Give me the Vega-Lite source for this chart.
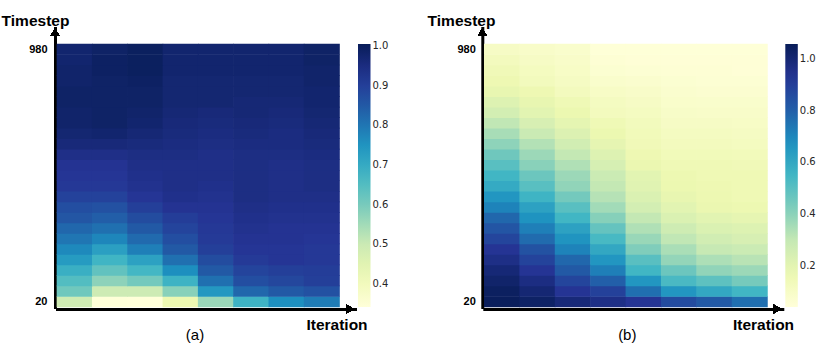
{"$schema":"https://vega.github.io/schema/vega-lite/v6.json","autosize":{"type":"none"},"padding":{"left":57,"top":28,"right":773,"bottom":334},"background":"white","bounds":"flush","spacing":129.3,"resolve":{"scale":{"color":"independent"},"legend":{"color":"independent"}},"config":{"view":{"stroke":null},"axis":{"grid":false,"ticks":false,"labelFont":"Liberation Sans","labelFontWeight":"bold","labelFontSize":11,"labelColor":"#000","titleFont":"Liberation Sans","titleFontWeight":"bold","titleFontSize":15.5,"titleColor":"#000","domainColor":"#000","domainWidth":3,"domainCap":"square","offset":2},"legend":{"labelFont":"DejaVu Sans","labelFontSize":10,"labelColor":"#262626","gradientLength":263,"gradientThickness":12.5,"gradientStrokeWidth":0,"labelOffset":8,"orient":"none","legendX":301,"legendY":16},"title":{"font":"Liberation Sans","fontSize":15,"fontWeight":"normal","color":"#000"}},"hconcat":[{"width":298,"height":279,"title":{"text":"(a)","orient":"bottom","anchor":"middle","dx":-11,"offset":-5},"data":{"values":[
{"iter":1,"t":20,"v":0.49},{"iter":2,"t":20,"v":0.345},{"iter":3,"t":20,"v":0.342},{"iter":4,"t":20,"v":0.425},{"iter":5,"t":20,"v":0.56},{"iter":6,"t":20,"v":0.68},{"iter":7,"t":20,"v":0.76},{"iter":8,"t":20,"v":0.79},
{"iter":1,"t":60,"v":0.61},{"iter":2,"t":60,"v":0.495},{"iter":3,"t":60,"v":0.495},{"iter":4,"t":60,"v":0.58},{"iter":5,"t":60,"v":0.74},{"iter":6,"t":60,"v":0.825},{"iter":7,"t":60,"v":0.85},{"iter":8,"t":60,"v":0.865},
{"iter":1,"t":100,"v":0.65},{"iter":2,"t":100,"v":0.575},{"iter":3,"t":100,"v":0.605},{"iter":4,"t":100,"v":0.68},{"iter":5,"t":100,"v":0.81},{"iter":6,"t":100,"v":0.87},{"iter":7,"t":100,"v":0.885},{"iter":8,"t":100,"v":0.9},
{"iter":1,"t":140,"v":0.69},{"iter":2,"t":140,"v":0.63},{"iter":3,"t":140,"v":0.67},{"iter":4,"t":140,"v":0.76},{"iter":5,"t":140,"v":0.85},{"iter":6,"t":140,"v":0.89},{"iter":7,"t":140,"v":0.9},{"iter":8,"t":140,"v":0.905},
{"iter":1,"t":180,"v":0.735},{"iter":2,"t":180,"v":0.675},{"iter":3,"t":180,"v":0.72},{"iter":4,"t":180,"v":0.81},{"iter":5,"t":180,"v":0.875},{"iter":6,"t":180,"v":0.91},{"iter":7,"t":180,"v":0.92},{"iter":8,"t":180,"v":0.915},
{"iter":1,"t":220,"v":0.77},{"iter":2,"t":220,"v":0.725},{"iter":3,"t":220,"v":0.785},{"iter":4,"t":220,"v":0.85},{"iter":5,"t":220,"v":0.9},{"iter":6,"t":220,"v":0.92},{"iter":7,"t":220,"v":0.92},{"iter":8,"t":220,"v":0.915},
{"iter":1,"t":260,"v":0.8},{"iter":2,"t":260,"v":0.775},{"iter":3,"t":260,"v":0.82},{"iter":4,"t":260,"v":0.87},{"iter":5,"t":260,"v":0.91},{"iter":6,"t":260,"v":0.925},{"iter":7,"t":260,"v":0.925},{"iter":8,"t":260,"v":0.92},
{"iter":1,"t":300,"v":0.825},{"iter":2,"t":300,"v":0.81},{"iter":3,"t":300,"v":0.85},{"iter":4,"t":300,"v":0.89},{"iter":5,"t":300,"v":0.915},{"iter":6,"t":300,"v":0.93},{"iter":7,"t":300,"v":0.925},{"iter":8,"t":300,"v":0.925},
{"iter":1,"t":340,"v":0.855},{"iter":2,"t":340,"v":0.84},{"iter":3,"t":340,"v":0.875},{"iter":4,"t":340,"v":0.905},{"iter":5,"t":340,"v":0.92},{"iter":6,"t":340,"v":0.935},{"iter":7,"t":340,"v":0.93},{"iter":8,"t":340,"v":0.93},
{"iter":1,"t":380,"v":0.87},{"iter":2,"t":380,"v":0.865},{"iter":3,"t":380,"v":0.9},{"iter":4,"t":380,"v":0.925},{"iter":5,"t":380,"v":0.925},{"iter":6,"t":380,"v":0.94},{"iter":7,"t":380,"v":0.935},{"iter":8,"t":380,"v":0.935},
{"iter":1,"t":420,"v":0.895},{"iter":2,"t":420,"v":0.895},{"iter":3,"t":420,"v":0.92},{"iter":4,"t":420,"v":0.935},{"iter":5,"t":420,"v":0.93},{"iter":6,"t":420,"v":0.945},{"iter":7,"t":420,"v":0.94},{"iter":8,"t":420,"v":0.94},
{"iter":1,"t":460,"v":0.915},{"iter":2,"t":460,"v":0.915},{"iter":3,"t":460,"v":0.93},{"iter":4,"t":460,"v":0.94},{"iter":5,"t":460,"v":0.935},{"iter":6,"t":460,"v":0.945},{"iter":7,"t":460,"v":0.94},{"iter":8,"t":460,"v":0.945},
{"iter":1,"t":500,"v":0.92},{"iter":2,"t":500,"v":0.92},{"iter":3,"t":500,"v":0.935},{"iter":4,"t":500,"v":0.94},{"iter":5,"t":500,"v":0.94},{"iter":6,"t":500,"v":0.945},{"iter":7,"t":500,"v":0.94},{"iter":8,"t":500,"v":0.945},
{"iter":1,"t":540,"v":0.925},{"iter":2,"t":540,"v":0.925},{"iter":3,"t":540,"v":0.94},{"iter":4,"t":540,"v":0.94},{"iter":5,"t":540,"v":0.94},{"iter":6,"t":540,"v":0.945},{"iter":7,"t":540,"v":0.94},{"iter":8,"t":540,"v":0.945},
{"iter":1,"t":580,"v":0.94},{"iter":2,"t":580,"v":0.94},{"iter":3,"t":580,"v":0.945},{"iter":4,"t":580,"v":0.945},{"iter":5,"t":580,"v":0.94},{"iter":6,"t":580,"v":0.945},{"iter":7,"t":580,"v":0.945},{"iter":8,"t":580,"v":0.95},
{"iter":1,"t":620,"v":0.96},{"iter":2,"t":620,"v":0.96},{"iter":3,"t":620,"v":0.955},{"iter":4,"t":620,"v":0.95},{"iter":5,"t":620,"v":0.945},{"iter":6,"t":620,"v":0.95},{"iter":7,"t":620,"v":0.95},{"iter":8,"t":620,"v":0.955},
{"iter":1,"t":660,"v":0.97},{"iter":2,"t":660,"v":0.975},{"iter":3,"t":660,"v":0.965},{"iter":4,"t":660,"v":0.955},{"iter":5,"t":660,"v":0.95},{"iter":6,"t":660,"v":0.955},{"iter":7,"t":660,"v":0.95},{"iter":8,"t":660,"v":0.96},
{"iter":1,"t":700,"v":0.98},{"iter":2,"t":700,"v":0.985},{"iter":3,"t":700,"v":0.975},{"iter":4,"t":700,"v":0.96},{"iter":5,"t":700,"v":0.955},{"iter":6,"t":700,"v":0.96},{"iter":7,"t":700,"v":0.955},{"iter":8,"t":700,"v":0.965},
{"iter":1,"t":740,"v":0.98},{"iter":2,"t":740,"v":0.985},{"iter":3,"t":740,"v":0.98},{"iter":4,"t":740,"v":0.965},{"iter":5,"t":740,"v":0.96},{"iter":6,"t":740,"v":0.965},{"iter":7,"t":740,"v":0.96},{"iter":8,"t":740,"v":0.97},
{"iter":1,"t":780,"v":0.985},{"iter":2,"t":780,"v":0.985},{"iter":3,"t":780,"v":0.985},{"iter":4,"t":780,"v":0.97},{"iter":5,"t":780,"v":0.97},{"iter":6,"t":780,"v":0.965},{"iter":7,"t":780,"v":0.965},{"iter":8,"t":780,"v":0.975},
{"iter":1,"t":820,"v":0.985},{"iter":2,"t":820,"v":0.985},{"iter":3,"t":820,"v":0.985},{"iter":4,"t":820,"v":0.97},{"iter":5,"t":820,"v":0.97},{"iter":6,"t":820,"v":0.97},{"iter":7,"t":820,"v":0.97},{"iter":8,"t":820,"v":0.975},
{"iter":1,"t":860,"v":0.98},{"iter":2,"t":860,"v":0.985},{"iter":3,"t":860,"v":0.99},{"iter":4,"t":860,"v":0.97},{"iter":5,"t":860,"v":0.97},{"iter":6,"t":860,"v":0.97},{"iter":7,"t":860,"v":0.97},{"iter":8,"t":860,"v":0.98},
{"iter":1,"t":900,"v":0.98},{"iter":2,"t":900,"v":0.99},{"iter":3,"t":900,"v":0.995},{"iter":4,"t":900,"v":0.975},{"iter":5,"t":900,"v":0.975},{"iter":6,"t":900,"v":0.975},{"iter":7,"t":900,"v":0.975},{"iter":8,"t":900,"v":0.98},
{"iter":1,"t":940,"v":0.975},{"iter":2,"t":940,"v":0.99},{"iter":3,"t":940,"v":0.995},{"iter":4,"t":940,"v":0.975},{"iter":5,"t":940,"v":0.975},{"iter":6,"t":940,"v":0.975},{"iter":7,"t":940,"v":0.975},{"iter":8,"t":940,"v":0.985},
{"iter":1,"t":980,"v":0.975},{"iter":2,"t":980,"v":0.985},{"iter":3,"t":980,"v":0.995},{"iter":4,"t":980,"v":0.975},{"iter":5,"t":980,"v":0.975},{"iter":6,"t":980,"v":0.975},{"iter":7,"t":980,"v":0.975},{"iter":8,"t":980,"v":0.985}
]},"layer":[{"mark":{"type":"rect","width":36,"height":11.2},"encoding":{"x":{"field":"iter","type":"quantitative","scale":{"domain":[0.5,8.94],"nice":false,"zero":false},"axis":{"labels":false,"title":"Iteration","titleAlign":"center","titleBaseline":"alphabetic","titleX":279.5,"titleY":20}},"y":{"field":"t","type":"quantitative","scale":{"domain":[0,1060.8],"nice":false},"axis":{"values":[20,980],"title":"Timestep","titleAngle":0,"titleAlign":"center","titleBaseline":"alphabetic","titleX":-20,"titleY":-3,"labelPadding":8}},"color":{"field":"v","type":"quantitative","scale":{"domain":[0.342,0.4249,0.5078,0.5906,0.6735,0.7564,0.8393,0.9221,1.005],"range":["#ffffd9","#edf8b1","#c7e9b4","#7fcdbb","#41b6c4","#1d91c0","#225ea8","#253494","#081d58"],"interpolate":"rgb"},"legend":{"title":null,"values":[0.4,0.5,0.6,0.7,0.8,0.9,1.0],"format":".1f"}}}},{"mark":{"type":"point","shape":"triangle-right","filled":true,"color":"#000","opacity":1,"size":70,"xOffset":-5,"yOffset":2,"clip":false},"encoding":{"x":{"datum":8.94,"type":"quantitative"},"y":{"datum":0,"type":"quantitative"}}},{"mark":{"type":"point","shape":"triangle-up","filled":true,"color":"#000","opacity":1,"size":70,"xOffset":-2,"yOffset":4,"clip":false},"encoding":{"x":{"datum":0.5,"type":"quantitative"},"y":{"datum":1060.8,"type":"quantitative"}}}]},
{"width":298,"height":279,"title":{"text":"(b)","orient":"bottom","anchor":"middle","dx":-6,"offset":-5},"data":{"values":[
{"iter":1,"t":20,"v":1.05},{"iter":2,"t":20,"v":1.03},{"iter":3,"t":20,"v":0.99},{"iter":4,"t":20,"v":0.96},{"iter":5,"t":20,"v":0.93},{"iter":6,"t":20,"v":0.86},{"iter":7,"t":20,"v":0.82},{"iter":8,"t":20,"v":0.76},
{"iter":1,"t":60,"v":1.04},{"iter":2,"t":60,"v":1.0},{"iter":3,"t":60,"v":0.93},{"iter":4,"t":60,"v":0.89},{"iter":5,"t":60,"v":0.76},{"iter":6,"t":60,"v":0.66},{"iter":7,"t":60,"v":0.6},{"iter":8,"t":60,"v":0.55},
{"iter":1,"t":100,"v":1.02},{"iter":2,"t":100,"v":0.97},{"iter":3,"t":100,"v":0.88},{"iter":4,"t":100,"v":0.8},{"iter":5,"t":100,"v":0.66},{"iter":6,"t":100,"v":0.53},{"iter":7,"t":100,"v":0.49},{"iter":8,"t":100,"v":0.44},
{"iter":1,"t":140,"v":0.995},{"iter":2,"t":140,"v":0.93},{"iter":3,"t":140,"v":0.82},{"iter":4,"t":140,"v":0.72},{"iter":5,"t":140,"v":0.55},{"iter":6,"t":140,"v":0.46},{"iter":7,"t":140,"v":0.39},{"iter":8,"t":140,"v":0.37},
{"iter":1,"t":180,"v":0.96},{"iter":2,"t":180,"v":0.885},{"iter":3,"t":180,"v":0.78},{"iter":4,"t":180,"v":0.66},{"iter":5,"t":180,"v":0.5},{"iter":6,"t":180,"v":0.385},{"iter":7,"t":180,"v":0.34},{"iter":8,"t":180,"v":0.32},
{"iter":1,"t":220,"v":0.93},{"iter":2,"t":220,"v":0.84},{"iter":3,"t":220,"v":0.71},{"iter":4,"t":220,"v":0.6},{"iter":5,"t":220,"v":0.42},{"iter":6,"t":220,"v":0.345},{"iter":7,"t":220,"v":0.295},{"iter":8,"t":220,"v":0.28},
{"iter":1,"t":260,"v":0.88},{"iter":2,"t":260,"v":0.77},{"iter":3,"t":260,"v":0.665},{"iter":4,"t":260,"v":0.535},{"iter":5,"t":260,"v":0.375},{"iter":6,"t":260,"v":0.305},{"iter":7,"t":260,"v":0.26},{"iter":8,"t":260,"v":0.24},
{"iter":1,"t":300,"v":0.83},{"iter":2,"t":300,"v":0.72},{"iter":3,"t":300,"v":0.62},{"iter":4,"t":300,"v":0.475},{"iter":5,"t":300,"v":0.335},{"iter":6,"t":300,"v":0.27},{"iter":7,"t":300,"v":0.23},{"iter":8,"t":300,"v":0.22},
{"iter":1,"t":340,"v":0.78},{"iter":2,"t":340,"v":0.67},{"iter":3,"t":340,"v":0.55},{"iter":4,"t":340,"v":0.41},{"iter":5,"t":340,"v":0.3},{"iter":6,"t":340,"v":0.23},{"iter":7,"t":340,"v":0.205},{"iter":8,"t":340,"v":0.19},
{"iter":1,"t":380,"v":0.71},{"iter":2,"t":380,"v":0.62},{"iter":3,"t":380,"v":0.5},{"iter":4,"t":380,"v":0.36},{"iter":5,"t":380,"v":0.255},{"iter":6,"t":380,"v":0.205},{"iter":7,"t":380,"v":0.175},{"iter":8,"t":380,"v":0.165},
{"iter":1,"t":420,"v":0.66},{"iter":2,"t":420,"v":0.555},{"iter":3,"t":420,"v":0.445},{"iter":4,"t":420,"v":0.325},{"iter":5,"t":420,"v":0.23},{"iter":6,"t":420,"v":0.185},{"iter":7,"t":420,"v":0.165},{"iter":8,"t":420,"v":0.155},
{"iter":1,"t":460,"v":0.59},{"iter":2,"t":460,"v":0.5},{"iter":3,"t":460,"v":0.39},{"iter":4,"t":460,"v":0.3},{"iter":5,"t":460,"v":0.21},{"iter":6,"t":460,"v":0.17},{"iter":7,"t":460,"v":0.16},{"iter":8,"t":460,"v":0.155},
{"iter":1,"t":500,"v":0.55},{"iter":2,"t":500,"v":0.46},{"iter":3,"t":500,"v":0.37},{"iter":4,"t":500,"v":0.28},{"iter":5,"t":500,"v":0.205},{"iter":6,"t":500,"v":0.165},{"iter":7,"t":500,"v":0.155},{"iter":8,"t":500,"v":0.155},
{"iter":1,"t":540,"v":0.5},{"iter":2,"t":540,"v":0.405},{"iter":3,"t":540,"v":0.335},{"iter":4,"t":540,"v":0.245},{"iter":5,"t":540,"v":0.175},{"iter":6,"t":540,"v":0.15},{"iter":7,"t":540,"v":0.15},{"iter":8,"t":540,"v":0.145},
{"iter":1,"t":580,"v":0.455},{"iter":2,"t":580,"v":0.37},{"iter":3,"t":580,"v":0.3},{"iter":4,"t":580,"v":0.22},{"iter":5,"t":580,"v":0.16},{"iter":6,"t":580,"v":0.14},{"iter":7,"t":580,"v":0.14},{"iter":8,"t":580,"v":0.135},
{"iter":1,"t":620,"v":0.395},{"iter":2,"t":620,"v":0.33},{"iter":3,"t":620,"v":0.26},{"iter":4,"t":620,"v":0.19},{"iter":5,"t":620,"v":0.145},{"iter":6,"t":620,"v":0.125},{"iter":7,"t":620,"v":0.125},{"iter":8,"t":620,"v":0.12},
{"iter":1,"t":660,"v":0.35},{"iter":2,"t":660,"v":0.285},{"iter":3,"t":660,"v":0.225},{"iter":4,"t":660,"v":0.17},{"iter":5,"t":660,"v":0.14},{"iter":6,"t":660,"v":0.115},{"iter":7,"t":660,"v":0.115},{"iter":8,"t":660,"v":0.11},
{"iter":1,"t":700,"v":0.305},{"iter":2,"t":700,"v":0.24},{"iter":3,"t":700,"v":0.195},{"iter":4,"t":700,"v":0.15},{"iter":5,"t":700,"v":0.13},{"iter":6,"t":700,"v":0.105},{"iter":7,"t":700,"v":0.105},{"iter":8,"t":700,"v":0.1},
{"iter":1,"t":740,"v":0.255},{"iter":2,"t":740,"v":0.205},{"iter":3,"t":740,"v":0.17},{"iter":4,"t":740,"v":0.125},{"iter":5,"t":740,"v":0.115},{"iter":6,"t":740,"v":0.095},{"iter":7,"t":740,"v":0.09},{"iter":8,"t":740,"v":0.09},
{"iter":1,"t":780,"v":0.22},{"iter":2,"t":780,"v":0.185},{"iter":3,"t":780,"v":0.15},{"iter":4,"t":780,"v":0.115},{"iter":5,"t":780,"v":0.105},{"iter":6,"t":780,"v":0.085},{"iter":7,"t":780,"v":0.08},{"iter":8,"t":780,"v":0.08},
{"iter":1,"t":820,"v":0.185},{"iter":2,"t":820,"v":0.16},{"iter":3,"t":820,"v":0.125},{"iter":4,"t":820,"v":0.1},{"iter":5,"t":820,"v":0.09},{"iter":6,"t":820,"v":0.075},{"iter":7,"t":820,"v":0.07},{"iter":8,"t":820,"v":0.07},
{"iter":1,"t":860,"v":0.16},{"iter":2,"t":860,"v":0.13},{"iter":3,"t":860,"v":0.11},{"iter":4,"t":860,"v":0.08},{"iter":5,"t":860,"v":0.075},{"iter":6,"t":860,"v":0.065},{"iter":7,"t":860,"v":0.06},{"iter":8,"t":860,"v":0.06},
{"iter":1,"t":900,"v":0.145},{"iter":2,"t":900,"v":0.12},{"iter":3,"t":900,"v":0.1},{"iter":4,"t":900,"v":0.065},{"iter":5,"t":900,"v":0.06},{"iter":6,"t":900,"v":0.055},{"iter":7,"t":900,"v":0.055},{"iter":8,"t":900,"v":0.05},
{"iter":1,"t":940,"v":0.125},{"iter":2,"t":940,"v":0.105},{"iter":3,"t":940,"v":0.09},{"iter":4,"t":940,"v":0.055},{"iter":5,"t":940,"v":0.05},{"iter":6,"t":940,"v":0.05},{"iter":7,"t":940,"v":0.05},{"iter":8,"t":940,"v":0.05},
{"iter":1,"t":980,"v":0.105},{"iter":2,"t":980,"v":0.09},{"iter":3,"t":980,"v":0.08},{"iter":4,"t":980,"v":0.045},{"iter":5,"t":980,"v":0.045},{"iter":6,"t":980,"v":0.045},{"iter":7,"t":980,"v":0.045},{"iter":8,"t":980,"v":0.045}
]},"layer":[{"mark":{"type":"rect","width":36,"height":11.2},"encoding":{"x":{"field":"iter","type":"quantitative","scale":{"domain":[0.5,8.92],"nice":false,"zero":false},"axis":{"labels":false,"title":"Iteration","titleAlign":"center","titleBaseline":"alphabetic","titleX":278.7,"titleY":20}},"y":{"field":"t","type":"quantitative","scale":{"domain":[0,1060.8],"nice":false},"axis":{"values":[20,980],"title":"Timestep","titleAngle":0,"titleAlign":"center","titleBaseline":"alphabetic","titleX":-21.3,"titleY":-3,"labelPadding":7}},"color":{"field":"v","type":"quantitative","scale":{"domain":[0.04,0.1673,0.2945,0.4218,0.549,0.6763,0.8035,0.9308,1.058],"range":["#ffffd9","#edf8b1","#c7e9b4","#7fcdbb","#41b6c4","#1d91c0","#225ea8","#253494","#081d58"],"interpolate":"rgb"},"legend":{"title":null,"values":[0.2,0.4,0.6,0.8,1.0],"format":".1f"}}}},{"mark":{"type":"point","shape":"triangle-right","filled":true,"color":"#000","opacity":1,"size":70,"xOffset":-5,"yOffset":2,"clip":false},"encoding":{"x":{"datum":8.92,"type":"quantitative"},"y":{"datum":0,"type":"quantitative"}}},{"mark":{"type":"point","shape":"triangle-up","filled":true,"color":"#000","opacity":1,"size":70,"xOffset":-2,"yOffset":4,"clip":false},"encoding":{"x":{"datum":0.5,"type":"quantitative"},"y":{"datum":1060.8,"type":"quantitative"}}}]}]}
